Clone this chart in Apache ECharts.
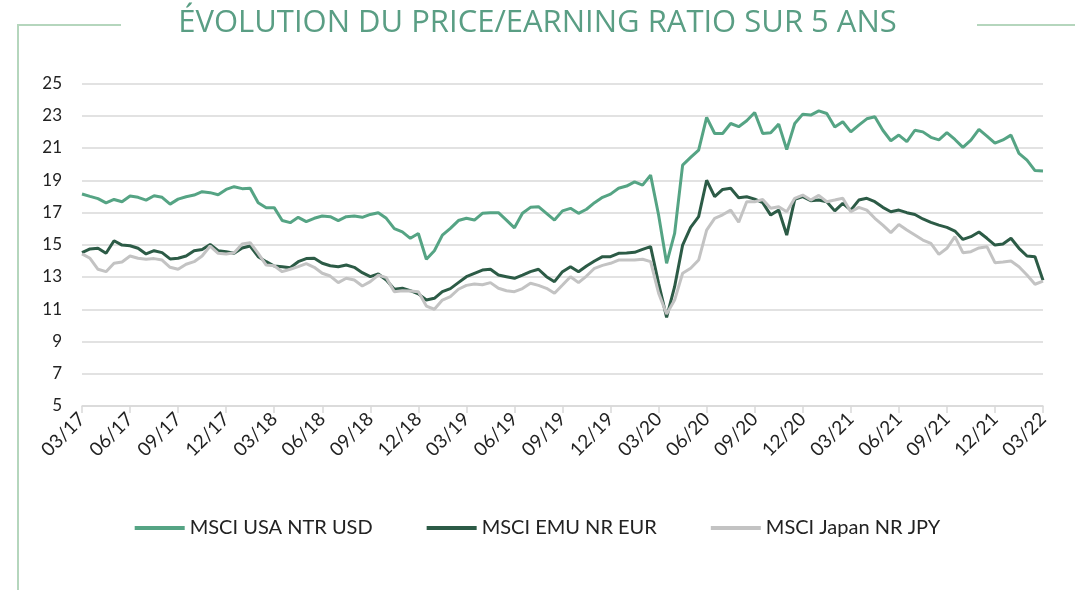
<!DOCTYPE html>
<html>
<head>
<meta charset="utf-8">
<script src="https://cdn.jsdelivr.net/npm/echarts@6/dist/echarts.min.js"></script>
<style>
  html, body { margin: 0; padding: 0; background: #fff; }
  #chart { width: 1075px; height: 590px; }
</style>
</head>
<body>
<div id="chart"></div>
<script>
// Tick labels (one per quarter)
const tickLabels = ['03/17','06/17','09/17','12/17','03/18','06/18','09/18','12/18','03/19','06/19','09/19','12/19','03/20','06/20','09/20','12/20','03/21','06/21','09/21','12/21','03/22'];

// Step between observations, in months (semi-monthly readings)
const stepMonths = 0.5;

const seriesNames = ['MSCI USA NTR USD', 'MSCI EMU NR EUR', 'MSCI Japan NR JPY'];

const usa = [18.15,18.0,17.86,17.6,17.81,17.67,18.02,17.94,17.77,18.04,17.94,17.52,17.83,17.98,18.08,18.29,18.23,18.1,18.43,18.6,
  18.48,18.5,17.6,17.3,17.3,16.5,16.37,16.7,16.43,16.64,16.78,16.74,16.5,16.74,16.78,16.7,16.88,16.99,16.64,16.0,
  15.8,15.4,15.7,14.1,14.63,15.6,16.02,16.5,16.64,16.53,16.95,16.99,16.99,16.53,16.05,16.95,17.32,17.36,16.95,16.53,
  17.1,17.26,16.95,17.2,17.61,17.94,18.14,18.5,18.64,18.9,18.7,19.32,16.84,13.85,15.7,19.94,20.42,20.87,22.9,21.9,
  21.9,22.52,22.32,22.69,23.2,21.9,21.95,22.48,20.9,22.52,23.1,23.04,23.3,23.14,22.3,22.63,22.0,22.42,22.81,22.94,
  22.1,21.45,21.8,21.39,22.1,22.0,21.66,21.5,21.95,21.53,21.04,21.49,22.15,21.74,21.3,21.5,21.8,20.67,20.25,19.6,19.57];

const emu = [14.51,14.74,14.78,14.47,15.25,14.98,14.94,14.78,14.43,14.63,14.51,14.12,14.16,14.3,14.63,14.71,15.02,14.63,14.57,14.47,
  14.8,14.92,14.26,13.95,13.68,13.64,13.58,13.95,14.14,14.16,13.85,13.7,13.64,13.74,13.6,13.27,13.02,13.19,12.81,12.24,
  12.3,12.15,11.95,11.57,11.68,12.09,12.28,12.65,13.02,13.23,13.43,13.48,13.12,13.02,12.92,13.12,13.33,13.48,13.02,12.71,
  13.33,13.64,13.33,13.68,13.99,14.26,14.26,14.47,14.49,14.53,14.71,14.88,12.61,10.5,12.4,14.98,16.08,16.74,19.0,17.98,
  18.43,18.5,17.92,17.98,17.83,17.61,16.84,17.15,15.6,17.81,17.98,17.73,17.77,17.67,17.1,17.57,17.15,17.77,17.88,17.67,
  17.32,17.05,17.15,16.99,16.88,16.6,16.39,16.22,16.08,15.85,15.33,15.5,15.79,15.4,14.98,15.05,15.4,14.78,14.3,14.26,12.8];

const japan = [14.43,14.16,13.48,13.33,13.85,13.93,14.3,14.16,14.1,14.14,14.05,13.6,13.48,13.79,13.95,14.3,14.92,14.47,14.43,14.51,
  15.05,15.13,14.47,13.74,13.7,13.33,13.48,13.64,13.83,13.6,13.23,13.06,12.65,12.92,12.81,12.44,12.71,13.12,12.96,12.09,
  12.15,12.13,12.09,11.2,11.0,11.57,11.78,12.24,12.48,12.57,12.52,12.65,12.3,12.15,12.09,12.28,12.61,12.48,12.3,11.99,
  12.5,13.02,12.65,13.06,13.54,13.72,13.85,14.05,14.05,14.05,14.1,13.95,12.0,10.7,11.57,13.23,13.54,14.05,15.91,16.64,
  16.86,17.15,16.4,17.67,17.67,17.81,17.26,17.36,17.05,17.88,18.08,17.77,18.06,17.67,17.77,17.88,17.05,17.32,17.15,16.64,
  16.22,15.75,16.26,15.91,15.6,15.29,15.09,14.4,14.78,15.5,14.51,14.57,14.8,14.88,13.89,13.93,13.99,13.64,13.12,12.55,12.75];

const colors = ['#55a484', '#2c5b46', '#c3c3c3'];

function toPairs(arr) { return arr.map((v, i) => [i * stepMonths, v]); }

const chart = echarts.init(document.getElementById('chart'), null, { renderer: 'canvas' });

const deco = '#b5d6bd';

chart.setOption({
  animation: false,
  title: {
    text: 'ÉVOLUTION DU PRICE/EARNING RATIO SUR 5 ANS',
    left: 'center',
    top: 3,
    textStyle: { color: '#5a9e84', fontSize: 31, fontWeight: 'normal', fontFamily: 'Open Sans' }
  },
  graphic: [
    { type: 'line', shape: { x1: 17, y1: 25, x2: 121, y2: 25 }, style: { stroke: deco, lineWidth: 2 } },
    { type: 'line', shape: { x1: 18, y1: 25, x2: 18, y2: 590 }, style: { stroke: deco, lineWidth: 2 } },
    { type: 'line', shape: { x1: 977, y1: 25, x2: 1075, y2: 25 }, style: { stroke: deco, lineWidth: 2 } }
  ],
  legend: {
    data: seriesNames,
    bottom: 47,
    left: 'center',
    icon: 'rect',
    itemWidth: 50,
    itemHeight: 4,
    itemGap: 54,
    textStyle: { color: '#222', fontSize: 20, fontFamily: 'Lato' }
  },
  grid: { left: 82, right: 32, top: 83.5, bottom: 184, containLabel: false },
  xAxis: {
    type: 'value',
    min: 0,
    max: 60,
    interval: 3,
    axisLine: { show: true, lineStyle: { color: '#d9d9d9', width: 1.5 } },
    axisTick: { show: true, length: 7, lineStyle: { color: '#d9d9d9', width: 1.5 } },
    splitLine: { show: false },
    axisLabel: {
      rotate: 45,
      color: '#222',
      fontSize: 19,
      fontFamily: 'Lato',
      margin: 10,
      formatter: v => tickLabels[Math.round(v / 3)] || ''
    }
  },
  yAxis: {
    type: 'value',
    min: 5,
    max: 25,
    interval: 2,
    axisLine: { show: false },
    axisTick: { show: false },
    splitLine: { lineStyle: { color: '#d9d9d9', width: 1.5 } },
    axisLabel: { color: '#222', fontSize: 17, fontFamily: 'Lato', margin: 20 }
  },
  series: [usa, emu, japan].map((arr, k) => ({
    name: seriesNames[k],
    type: 'line',
    data: toPairs(arr),
    showSymbol: false,
    symbol: 'none',
    lineStyle: { color: colors[k], width: 3 },
    itemStyle: { color: colors[k] }
  }))
});
</script>
</body>
</html>
